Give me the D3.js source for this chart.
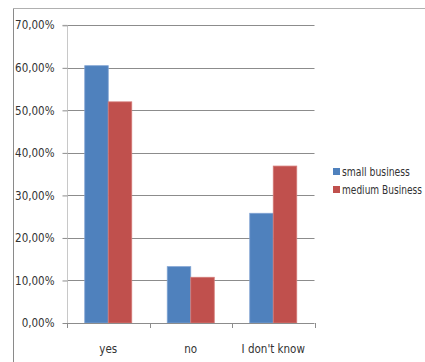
<!DOCTYPE html>
<html><head><meta charset="utf-8">
<script src="https://cdn.jsdelivr.net/npm/d3@7"></script>
<style>body{margin:0;background:#fff}svg{display:block}</style>
</head><body>
<script>
const categories = ["yes", "no", "I don't know"];
const seriesNames = ["small business", "medium Business"];
const smallBusiness = [60.5, 13.25, 25.8];
const mediumBusiness = [52.0, 10.75, 36.9];
const yTicks = [0, 10, 20, 30, 40, 50, 60, 70];
const colors = ["#4f81bd", "#c0504d"];

const W = 425, H = 362;
const font = "'DejaVu Sans Condensed','Liberation Sans Narrow','Open Sans',sans-serif";
const svg = d3.select("body").append("svg").attr("width", W).attr("height", H);

// outer frame (top and left only visible)
svg.append("line").attr("x1", 13.5).attr("x2", W).attr("y1", 8.5).attr("y2", 8.5).attr("stroke", "#b0b0b0");
svg.append("line").attr("x1", 13.5).attr("x2", 13.5).attr("y1", 8.5).attr("y2", H).attr("stroke", "#8a8a8a");

const x0 = 67, x1 = 314.5, yTop = 25.3, yBot = 323;
const x = d3.scaleBand().domain(categories).range([x0, x1]).paddingInner(0).paddingOuter(0);
const y = d3.scaleLinear().domain([0, 70]).range([yBot, yTop]);
const gap = (x.bandwidth() - 47) / 2;
const xs = d3.scaleBand().domain(seriesNames).range([gap, x.bandwidth() - gap]).padding(0);

// gridlines
svg.append("g").selectAll("line").data(yTicks.filter(d => d > 0)).join("line")
  .attr("x1", x0).attr("x2", x1)
  .attr("y1", d => Math.round(y(d)) + 0.5).attr("y2", d => Math.round(y(d)) + 0.5)
  .attr("stroke", "#8c8c8c").attr("stroke-width", 1);

// bars
const data = categories.map((c, i) => ({c, vals: [smallBusiness[i], mediumBusiness[i]]}));
const g = svg.append("g").selectAll("g").data(data).join("g").attr("transform", d => `translate(${x(d.c)},0)`);
g.selectAll("rect").data(d => d.vals.map((v, k) => ({v, k}))).join("rect")
  .attr("x", d => xs(seriesNames[d.k]))
  .attr("width", xs.bandwidth())
  .attr("y", d => y(d.v))
  .attr("height", d => yBot - y(d.v))
  .attr("fill", d => colors[d.k])
  .attr("stroke", d => d.k === 0 ? "#7fa3d3" : "#d47a77").attr("stroke-width", 0.8);

// y axis
const yAxis = svg.append("g").attr("transform", `translate(${x0 + 0.5},0)`)
  .call(d3.axisLeft(y).tickValues(yTicks).tickSize(5).tickPadding(8)
    .tickFormat(d => d.toFixed(2).replace(".", ",") + "%"));
yAxis.select(".domain").attr("stroke", "#c8c8c8").attr("d", `M-5,${yTop}H0V${yBot}`);
yAxis.selectAll(".tick line").attr("stroke", "#8c8c8c");
yAxis.selectAll("text").attr("font-family", font).attr("font-size", 11.5).attr("fill", "#333");

// x axis
const xAxis = svg.append("g").attr("transform", `translate(0,${yBot + 0.5})`)
  .call(d3.axisBottom(x).tickSize(0).tickPadding(21));
xAxis.select(".domain").attr("stroke", "#8c8c8c").attr("d", `M${x0},0H${x1}`);
xAxis.selectAll("text").attr("font-family", font).attr("font-size", 11.5).attr("fill", "#333");
svg.append("g").selectAll("line").data([x0, ...categories.map(c => x(c) + x.bandwidth())]).join("line")
  .attr("x1", d => Math.round(d) + 0.5).attr("x2", d => Math.round(d) + 0.5)
  .attr("y1", yBot).attr("y2", yBot + 5).attr("stroke", "#8c8c8c");

// legend
const legendWidths = [68, 80];
const leg = svg.append("g").attr("transform", "translate(333,168)");
const li = leg.selectAll("g").data(seriesNames).join("g").attr("transform", (d, i) => `translate(0,${i * 18})`);
li.append("rect").attr("width", 7).attr("height", 7).attr("fill", (d, i) => colors[i]);
li.append("g").attr("transform", "translate(9,7.5)")
  .append("text").attr("font-family", font).attr("font-size", 11.5).attr("fill", "#333")
  .text(d => d)
  .each(function(d, i) {
    const w = this.getComputedTextLength();
    d3.select(this.parentNode).attr("transform", `translate(9,7.5) scale(${legendWidths[i] / w},1)`);
  });
</script>
</body></html>
